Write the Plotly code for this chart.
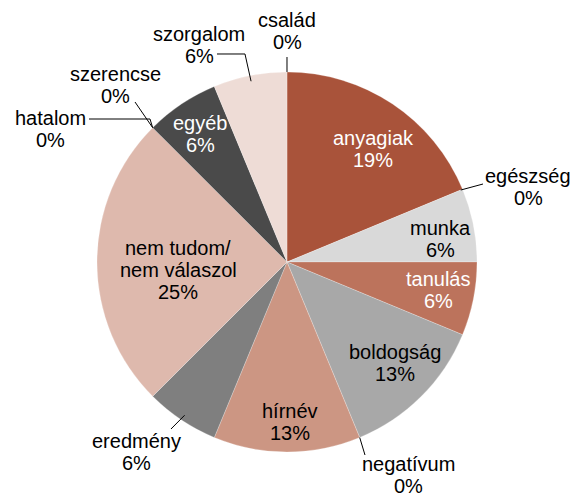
import math
import plotly.graph_objects as go

# ---- data (clockwise from 12 o'clock) ----
categories = ["anyagiak", "egészség", "munka", "tanulás", "boldogság", "negatívum",
              "hírnév", "eredmény", "nem tudom/\nnem válaszol", "hatalom", "szerencse",
              "egyéb", "szorgalom", "család"]
counts = [3, 0, 1, 1, 2, 0, 2, 1, 4, 0, 0, 1, 1, 0]
colors = ["#A9533A", "#D9D9D9", "#D9D9D9", "#BC735C", "#A8A8A8", "#A8A8A8",
          "#CC9683", "#7F7F7F", "#DEB9AD", "#4A4A4A", "#4A4A4A",
          "#4A4A4A", "#EEDCD6", "#EEDCD6"]
text_colors = ["white", "black", "black", "white", "black", "black",
               "black", "black", "black", "black", "black",
               "white", "black", "black"]

# ---- layout constants (page pixels) ----
W, H = 577, 496
CX, CY, R = 287, 262, 190
FONT = "Liberation Sans, Arial, Helvetica, sans-serif"
FS = 20
LS = 22  # line spacing

# label centres (pixels)
label_pos = {
    "anyagiak": (373, 149), "munka": (440, 239), "tanulás": (438, 290),
    "boldogság": (395, 363), "hírnév": (290, 422), "eredmény": (136, 452),
    "nem tudom/\nnem válaszol": (178, 270), "egyéb": (200, 134),
    "szorgalom": (199, 45), "család": (287, 31), "szerencse": (115, 85),
    "hatalom": (50, 129), "egészség": (528, 187), "negatívum": (408, 475),
}
# leader line start / elbow points (pixels); end point is on the pie
leader = {
    "család": ([(287, 57)], "start", 1.0),
    "szorgalom": ([(217, 54), (245, 54)], "mid", 0.97),
    "szerencse": ([(135, 102)], "start", 1.0),
    "hatalom": ([(89, 119), (150, 119)], "start", 1.0),
    "egészség": ([(483, 184)], "start", 0.99),
    "negatívum": ([(365, 455)], "start", 1.0),
    "eredmény": ([(171, 429)], "mid", 0.97),
}


def px2paper(x, y):
    return x / W, 1 - y / H


total = sum(counts)
nz = [i for i, c in enumerate(counts) if c > 0]

dx0, dy0 = px2paper(CX - R, CY + R)
dx1, dy1 = px2paper(CX + R, CY - R)
fig = go.Figure(go.Pie(
    labels=[categories[i] for i in nz],
    values=[counts[i] for i in nz],
    marker=dict(colors=[colors[i] for i in nz],
                line=dict(width=0.4, color="rgba(255,255,255,0.6)")),
    sort=False, direction="clockwise", rotation=0,
    textinfo="none", hoverinfo="skip",
    domain=dict(x=[dx0, dx1], y=[dy0, dy1]),
    showlegend=False,
))

annotations = []
shapes = []
cum = 0
for i, cat in enumerate(categories):
    start_ang = cum / total * 360
    cum += counts[i]
    end_ang = cum / total * 360
    mid_ang = (start_ang + end_ang) / 2
    pct = math.floor(100 * counts[i] / total + 0.5)
    lines = cat.split("\n") + [f"{pct}%"]
    x0, y0 = label_pos[cat]
    n = len(lines)
    for k, t in enumerate(lines):
        yy = y0 - (n - 1) / 2 * LS + k * LS
        px, py = px2paper(x0, yy)
        annotations.append(dict(
            x=px, y=py, xref="paper", yref="paper", text=t, showarrow=False,
            xanchor="center", yanchor="middle",
            font=dict(family=FONT, size=FS, color=text_colors[i])))
    if cat in leader:
        pts, which, rf = leader[cat]
        ang = start_ang if which == "start" else mid_ang
        a = math.radians(ang)
        ex = CX + rf * R * math.sin(a)
        ey = CY - rf * R * math.cos(a)
        allpts = pts + [(ex, ey)]
        path = ""
        for j, (xx, yy) in enumerate(allpts):
            qx, qy = px2paper(xx, yy)
            path += ("M" if j == 0 else " L") + f" {qx:.5f},{qy:.5f}"
        shapes.append(dict(type="path", path=path, xref="paper", yref="paper",
                           line=dict(color="black", width=1)))

fig.update_layout(
    width=W, height=H,
    margin=dict(l=0, r=0, t=0, b=0),
    paper_bgcolor="white", plot_bgcolor="white",
    annotations=annotations, shapes=shapes,
    font=dict(family=FONT, size=FS),
    hovermode=False,
)

fig.write_html("out.html",
               config={"displayModeBar": False, "staticPlot": True},
               post_script="document.body.style.margin='0';"
                           "document.body.style.overflow='hidden';")
